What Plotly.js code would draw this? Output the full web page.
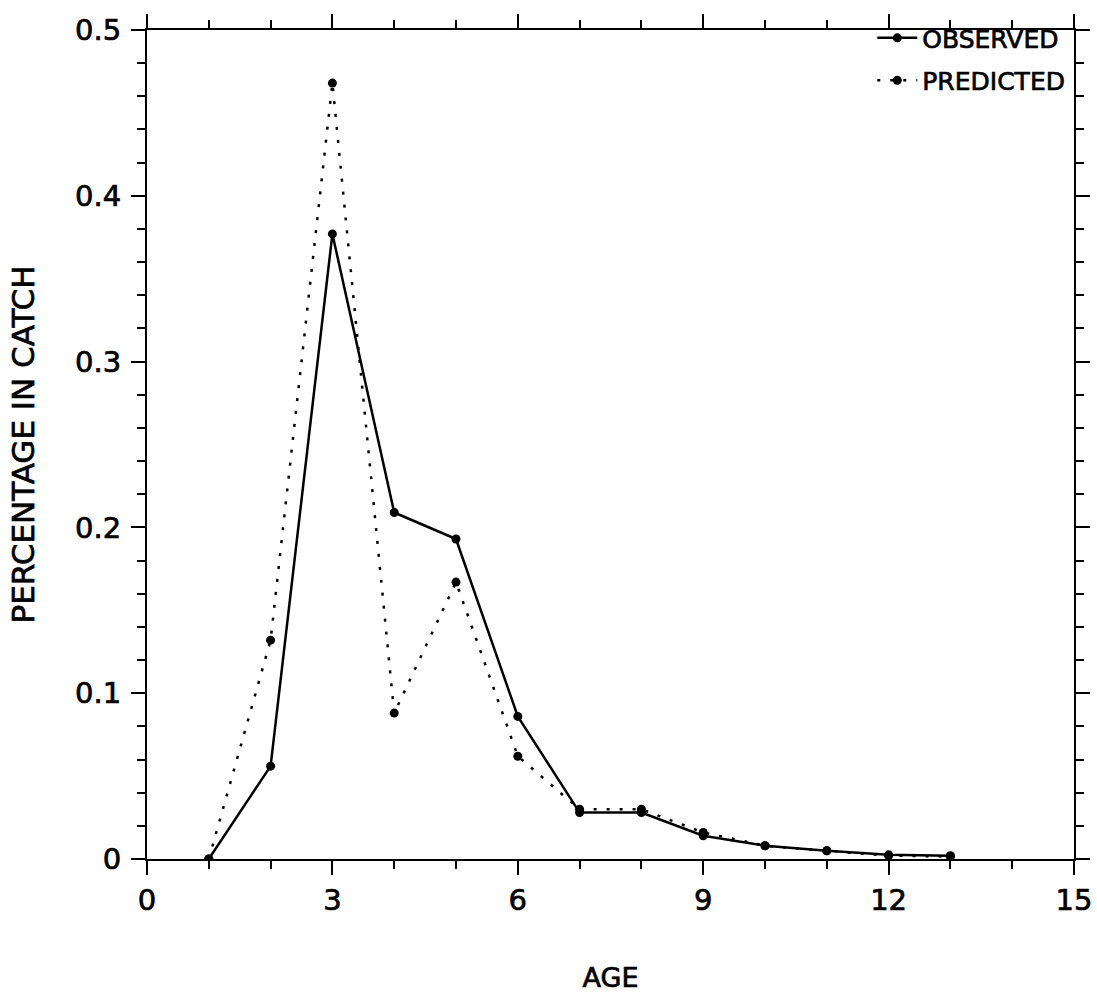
<!DOCTYPE html>
<html>
<head>
<meta charset="utf-8">
<script src="https://cdn.plot.ly/plotly-3.0.1.min.js"></script>
<style>
html,body{margin:0;padding:0;background:#fff;}
#chart{width:1097px;height:994px;}
#chart svg text{stroke:#000;stroke-width:0.7px;}
</style>
</head>
<body>
<div id="chart"></div>
<script>
const ages = [1, 2, 3, 4, 5, 6, 7, 8, 9, 10, 11, 12, 13];
const observed = [0, 0.056, 0.377, 0.209, 0.193, 0.086, 0.028, 0.028, 0.014, 0.008, 0.005, 0.0025, 0.002];
const predicted = [0, 0.132, 0.468, 0.088, 0.167, 0.062, 0.030, 0.030, 0.016, 0.008, 0.005, 0.002, 0.0015];
const xTicks = [0, 3, 6, 9, 12, 15];
const yTicks = [0, 0.1, 0.2, 0.3, 0.4, 0.5];

const font = 'DejaVu Sans, Liberation Sans, Arial, sans-serif';

const traces = [
  {
    x: ages, y: observed, name: 'OBSERVED', mode: 'lines+markers', legendgroup: 'a',
    line: {color: '#000', width: 2.5},
    marker: {color: '#000', size: 9}
  },
  {
    x: ages, y: predicted, name: 'PREDICTED', mode: 'lines+markers', legendgroup: 'b',
    line: {color: '#000', width: 2.5, dash: '3px,10px'},
    marker: {color: '#000', size: 9}
  }
];

const axisCommon = {
  showgrid: false, zeroline: false, showline: true, linecolor: '#000', linewidth: 2,
  mirror: 'ticks', ticks: 'outside', tickcolor: '#000', tickwidth: 2, ticklen: 14,
  tickfont: {family: font, size: 29, color: '#000'}
};

const layout = {
  width: 1097, height: 994,
  margin: {l: 147, r: 23, t: 30, b: 135},
  paper_bgcolor: '#fff', plot_bgcolor: '#fff',
  showlegend: true,
  legend: {x: 0.996, y: 1.018, xanchor: 'right', yanchor: 'top', bgcolor: 'rgba(0,0,0,0)',
           font: {family: font, size: 25, color: '#000'}, itemwidth: 40,
           traceorder: 'grouped', tracegroupgap: 7},
  xaxis: Object.assign({}, axisCommon, {
    range: [0, 15], tickvals: xTicks, ticktext: xTicks.map(String),
    ticklabelstandoff: 0,
    minor: {dtick: 1, ticks: 'outside', ticklen: 8, tickwidth: 2, tickcolor: '#000'},
    title: {text: 'AGE', font: {family: font, size: 27, color: '#000'}, standoff: 52}
  }),
  yaxis: Object.assign({}, axisCommon, {
    range: [0, 0.5], tickvals: yTicks, ticktext: yTicks.map(String),
    ticklabelstandoff: 4,
    minor: {dtick: 0.02, tick0: 0, ticks: 'outside', ticklen: 8, tickwidth: 2, tickcolor: '#000'},
    title: {text: 'PERCENTAGE IN CATCH', font: {family: font, size: 31, color: '#000'}, standoff: 31}
  })
};

Plotly.newPlot('chart', traces, layout, {displayModeBar: false, staticPlot: true});
</script>
</body>
</html>
